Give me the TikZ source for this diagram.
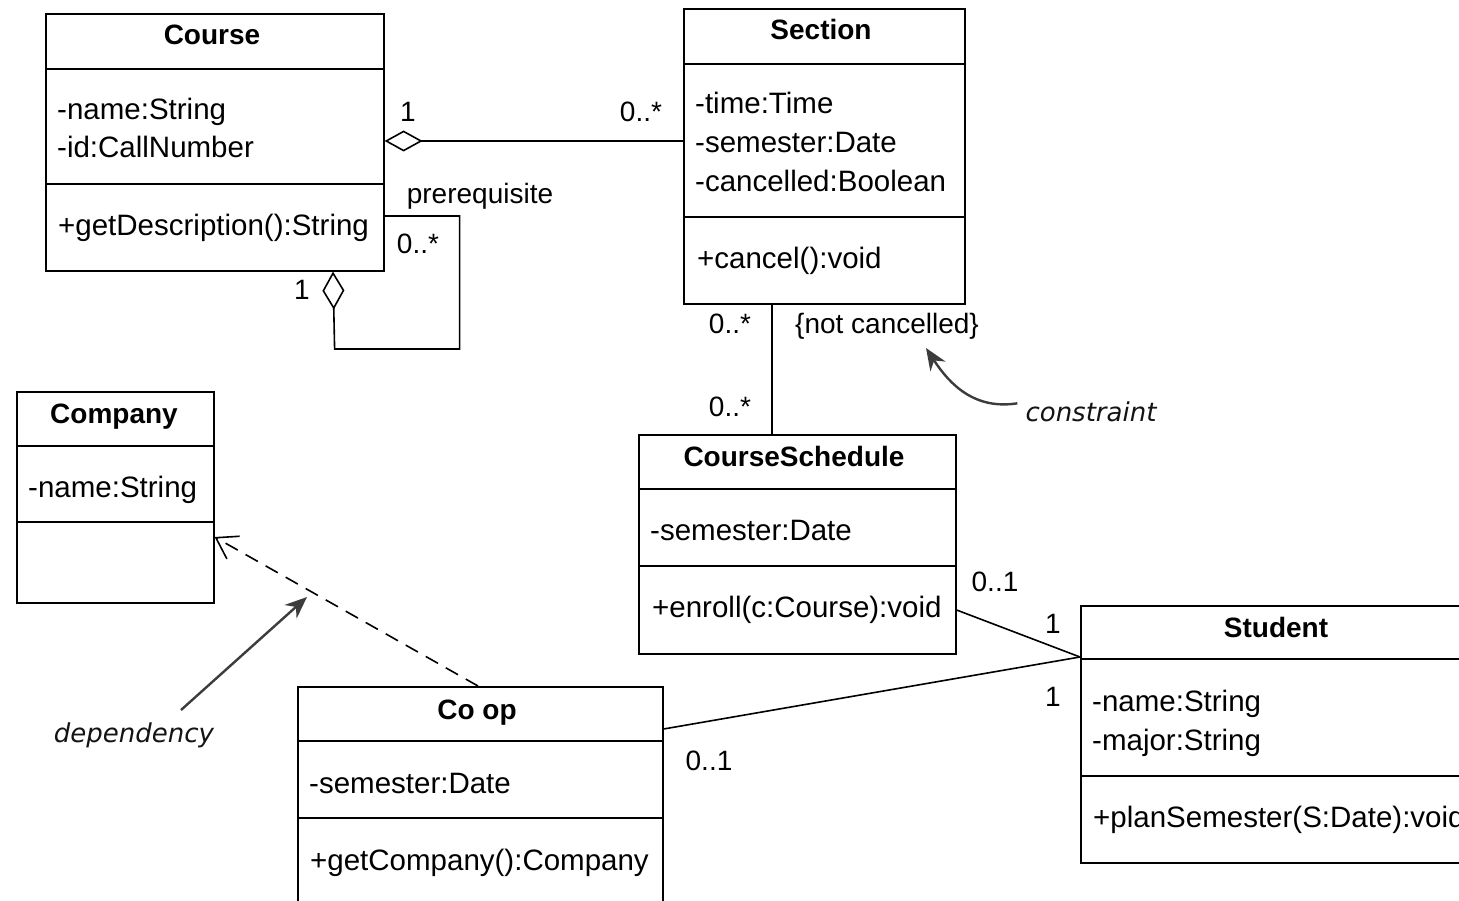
\documentclass[tikz,border=0pt]{standalone}
\usepackage{fontspec}
\setmainfont{Liberation Sans}
\newfontfamily\annfont{DejaVu Sans}
\usetikzlibrary{arrows.meta}
\definecolor{anngray}{HTML}{3C3C3C}
\newcommand\umldiv[2]{\draw[boxline] ([yshift=-#2]#1.north west) -- ([yshift=-#2]#1.north east);}
\tikzset{
  boxline/.style={line width=1.6pt, black},
  cls/.style={draw, boxline, anchor=north west, inner sep=0pt, fill=white},
  ttl/.style={anchor=base, font=\fontsize{28}{30}\selectfont\bfseries, inner sep=0pt},
  mem/.style={anchor=base west, font=\fontsize{29.5}{32}\selectfont, inner sep=0pt},
  mult/.style={anchor=base, font=\fontsize{28}{30}\selectfont, inner sep=0pt},
  ann/.style={anchor=base, font=\fontsize{26}{28}\annfont\itshape, text=black!92, inner sep=0pt},
  assoc/.style={line width=1.6pt},
  annarrow/.style={line width=2.4pt, anngray, -{Stealth[length=22pt,width=18pt]}}
}
\begin{document}
\begin{tikzpicture}[x=1pt,y=-1pt]
\clip (0,0) rectangle (1459,901);
\fill[white] (0,0) rectangle (1459,901);

% Course
\node[cls, minimum width=338pt, minimum height=257pt] (course) at (45,13) {};
\umldiv{course}{56pt}
\umldiv{course}{171pt}
\node[ttl] (courseT) at (212,45) {Course};
\node[mem] (courseA1) at (57,120) {-name:String};
\node[mem] (courseA2) at (57,158) {-id:CallNumber};
\node[mem] (courseM1) at (58,236) {+getDescription():String};

% Section
\node[cls, minimum width=281pt, minimum height=295pt] (section) at (683,8) {};
\umldiv{section}{56pt}
\umldiv{section}{209pt}
\node[ttl] (sectionT) at (821,40) {Section};
\node[mem] (sectionA1) at (695,114) {-time:Time};
\node[mem] (sectionA2) at (695,153) {-semester:Date};
\node[mem] (sectionA3) at (695,192) {-cancelled:Boolean};
\node[mem] (sectionM1) at (697,269) {+cancel():void};

% Company
\node[cls, minimum width=197pt, minimum height=211pt] (company) at (16,391) {};
\umldiv{company}{55pt}
\umldiv{company}{131pt}
\node[ttl] (companyT) at (114,423) {Company};
\node[mem] (companyA1) at (28,497) {-name:String};

% CourseSchedule
\node[cls, minimum width=317pt, minimum height=219pt] (sched) at (638,434) {};
\umldiv{sched}{55pt}
\umldiv{sched}{132pt}
\node[ttl] (schedT) at (794,466) {CourseSchedule};
\node[mem] (schedA1) at (650,540) {-semester:Date};
\node[mem] (schedM1) at (652,617) {+enroll(c:Course):void};

% Co op
\node[cls, minimum width=365pt, minimum height=224pt] (coop) at (297,686) {};
\umldiv{coop}{55pt}
\umldiv{coop}{132pt}
\node[ttl] (coopT) at (477,719) {Co op};
\node[mem] (coopA1) at (309,793) {-semester:Date};
\node[mem] (coopM1) at (310,870) {+getCompany():Company};

% Student
\node[cls, minimum width=390pt, minimum height=257pt] (student) at (1080,605) {};
\umldiv{student}{54pt}
\umldiv{student}{171pt}
\node[ttl] (studentT) at (1276,637) {Student};
\node[mem] (studentA1) at (1092,711) {-name:String};
\node[mem] (studentA2) at (1092,750) {-major:String};
\node[mem] (studentM1) at (1093,827) {+planSemester(S:Date):void};

% Course -- Section (aggregation)
\draw[assoc, -{Diamond[open, length=38pt, width=21pt, line width=1.6pt]}]
  ([yshift=-133pt]section.north west) -- ([yshift=-128pt]course.north east);
\node[mult] (m1) at (408,122) {1};
\node[mult] (m2) at (641,122) {0..*};

% Course self association (prerequisite)
\draw[assoc, -{Diamond[open, length=38pt, width=22pt, line width=1.6pt]}]
  ([yshift=-203pt]course.north east) -- ++(75,0) -- ++(0,133) -- ++(-125,0)
  -- ([xshift=288pt]course.south west);
\node[mult] (pre) at (480,204) {prerequisite};
\node[mult] (m3) at (418,254) {0..*};
\node[mult] (m4) at (302,300) {1};

% Section -- CourseSchedule
\draw[assoc] ([xshift=89pt]section.south west) -- ([xshift=134pt]sched.north west);
\node[mult] (m5) at (730,334) {0..*};
\node[mult] (m6) at (730,416) {0..*};
\node[mult] (nc) at (887,334) {\{not cancelled\}};

% CourseSchedule -- Student
\draw[assoc] ([yshift=-176pt]sched.north east) -- ([yshift=-52pt]student.north west);
\node[mult] (m7) at (995,591) {0..1};
\node[mult] (m8) at (1053,633) {1};

% Co op -- Student
\draw[assoc] ([yshift=-43pt]coop.north east) -- ([yshift=-52pt]student.north west);
\node[mult] (m9) at (1053,706) {1};
\node[mult] (m10) at (709,770) {0..1};

% Dependency Co op -> Company
\draw[assoc, dash pattern=on 14pt off 9pt, -{Straight Barb[length=20pt, width=26pt, line width=1.6pt]}]
  ([xshift=181pt]coop.north west) -- ([yshift=-146pt]company.north east);

% Annotations
\node[ann] (constraintN) at (1091,421) {constraint};
\coordinate (constraintTip) at (926,348);
\draw[annarrow] ([xshift=-8pt,yshift=8pt]constraintN.west) .. controls (975,410) and (950,385) .. (constraintTip);

\node[ann] (dependencyN) at (134,742) {dependency};
\coordinate (depStart) at (181,710);
\coordinate (depTip) at (307,597);
\draw[annarrow] (depStart) -- (depTip);
\end{tikzpicture}
\end{document}
